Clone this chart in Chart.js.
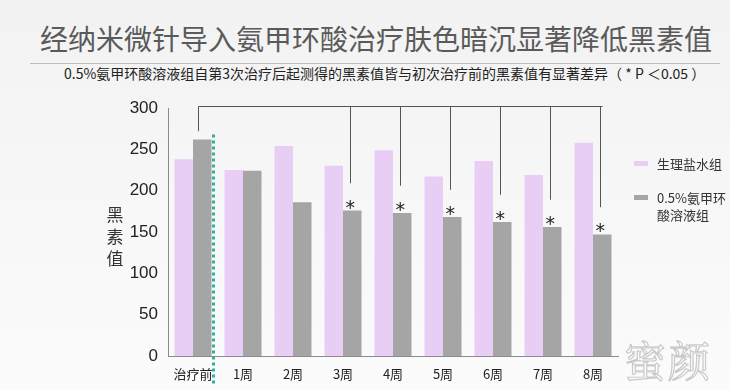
<!DOCTYPE html>
<html>
<head>
<meta charset="utf-8">
<script src="https://cdn.jsdelivr.net/npm/chart.js@4/dist/chart.umd.min.js"></script>
<style>
  html, body { margin: 0; padding: 0; }
  body {
    width: 730px; height: 390px; overflow: hidden; position: relative;
    background: linear-gradient(180deg, #f2f2f2 0%, #f7f7f7 50%, #fbfbfb 100%);
    font-family: "Noto Sans CJK SC", "Liberation Sans", sans-serif;
  }
  #title {
    position: absolute; left: 40px; top: 18px; width: 680px;
    font-size: 28px; line-height: 40px; color: #5a5a5a;
    white-space: nowrap;
  }
  #rule {
    position: absolute; left: 30px; top: 63px; width: 690px; height: 1px; background: #bdbdbd;
  }
  #subtitle {
    position: absolute; left: 64px; top: 64px;
    font-size: 14px; line-height: 19px; color: #222; white-space: nowrap;
  }
  #ylabel {
    position: absolute; left: 105px; top: 203px; width: 20px;
    font-size: 17px; line-height: 22px; color: #333; text-align: center;
  }
  .leg { position: absolute; left: 634px; font-size: 13px; line-height: 17px; color: #333; }
  .leg i { position: absolute; left: 0; top: 6px; width: 14px; height: 5px; }
  .leg span { display: block; padding-left: 23px; white-space: nowrap; }
  #mark {
    position: absolute; left: 624px; top: 334px; font-size: 42px; line-height: 50px;
    font-family: "Noto Serif CJK SC", "Noto Sans CJK SC", serif;
    color: #fdfdfd; -webkit-text-stroke: 1.2px #c9c9c9; letter-spacing: 2px;
  }
  #wrap { position: absolute; left: 0; top: 0; width: 730px; height: 390px; }
</style>
</head>
<body>
<div id="title">经纳米微针导入氨甲环酸治疗肤色暗沉显著降低黑素值</div>
<div id="rule"></div>
<div id="subtitle">0.5%氨甲环酸溶液组自第3次治疗后起测得的黑素值皆与初次治疗前的黑素值有显著差异（ * P ＜0.05 ）</div>
<div id="wrap"><canvas id="chart"></canvas></div>
<div id="ylabel">黑<br>素<br>值</div>
<div class="leg" style="top:155px"><i style="background:#e8cdf5"></i><span>生理盐水组</span></div>
<div class="leg" style="top:189px"><i style="background:#a5a5a5"></i><span>0.5%氨甲环<br>酸溶液组</span></div>
<div id="mark">蜜颜</div>

<script>
// data
const categories = ['治疗前', '1周', '2周', '3周', '4周', '5周', '6周', '7周', '8周'];
const salineValues = [238, 225, 254, 230, 249, 217, 236, 219, 258];
const tranexamicValues = [262, 224, 186, 176, 173, 168, 162, 156, 147];
// weeks whose 0.5% group differs significantly from baseline (* P < 0.05)
const significantIdx = [3, 4, 5, 6, 7, 8];
const yTicks = [0, 50, 100, 150, 200, 250, 300];

const PINK = '#e8cdf5';
const GRAY = '#a5a5a5';

// brackets, asterisks and the dotted divider after the baseline group
const annotations = {
  id: 'annotations',
  afterDatasetsDraw(chart) {
    const ctx = chart.ctx;
    const x = chart.scales.x;
    const y = chart.scales.y;
    const meta = chart.getDatasetMeta(1);

    // dotted teal divider
    const x0 = x.getPixelForValue(0), x1 = x.getPixelForValue(1);
    const dx = Math.round(x0 + (x1 - x0) * 0.4) + 0.5;
    ctx.save();
    ctx.strokeStyle = '#2bb39f';
    ctx.lineWidth = 3;
    ctx.setLineDash([3, 3]);
    ctx.beginPath();
    ctx.moveTo(dx, y.getPixelForValue(268));
    ctx.lineTo(dx, chart.height - 4);
    ctx.stroke();
    ctx.restore();

    // bracket from baseline gray bar to each significant week
    const topY = Math.round(y.getPixelForValue(303)) + 0.5;
    const baseX = Math.round(meta.data[0].x) - 3.5;
    ctx.save();
    ctx.strokeStyle = '#555';
    ctx.lineWidth = 1;
    ctx.beginPath();
    ctx.moveTo(baseX, y.getPixelForValue(tranexamicValues[0] + 10));
    ctx.lineTo(baseX, topY);
    const lastX = Math.round(meta.data[significantIdx[significantIdx.length - 1]].x) + 0.5;
    ctx.lineTo(lastX, topY);
    ctx.stroke();
    significantIdx.forEach(i => {
      const bx = Math.round(meta.data[i].x) - 1.5;
      ctx.beginPath();
      ctx.moveTo(bx, topY);
      ctx.lineTo(bx, y.getPixelForValue(tranexamicValues[i] + 33));
      ctx.stroke();
    });
    ctx.fillStyle = '#222';
    ctx.font = '19px "DejaVu Sans", sans-serif';
    ctx.textAlign = 'center';
    ctx.textBaseline = 'alphabetic';
    significantIdx.forEach(i => {
      ctx.fillText('*', meta.data[i].x - 2, y.getPixelForValue(tranexamicValues[i]) + 3);
    });
    ctx.restore();
  }
};

new Chart(document.getElementById('chart'), {
  type: 'bar',
  data: {
    labels: categories,
    datasets: [
      {
        label: '生理盐水组',
        data: salineValues,
        backgroundColor: PINK,
        borderWidth: 0,
        categoryPercentage: 0.74,
        barPercentage: 1.0
      },
      {
        label: '0.5%氨甲环酸溶液组',
        data: tranexamicValues,
        backgroundColor: GRAY,
        borderWidth: 0,
        categoryPercentage: 0.74,
        barPercentage: 1.0
      }
    ]
  },
  options: {
    responsive: true,
    maintainAspectRatio: false,
    animation: false,
    layout: { padding: { top: 108, right: 112, left: 0, bottom: 0 } },
    plugins: {
      legend: { display: false },
      tooltip: { enabled: false }
    },
    scales: {
      x: {
        grid: { display: false, drawTicks: false },
        border: { color: '#8a8a8a', width: 1 },
        afterFit: s => { s.height = 34; },
        ticks: {
          color: '#222',
          padding: 10,
          maxRotation: 0,
          font: { family: '"Noto Sans CJK SC", sans-serif', size: 13 }
        }
      },
      y: {
        min: 0,
        max: 300,
        grid: { display: false, drawTicks: false },
        border: { color: '#8a8a8a', width: 1 },
        afterFit: s => { s.width = 168; },
        afterBuildTicks: s => { s.ticks = yTicks.map(v => ({ value: v })); },
        ticks: {
          color: '#222',
          padding: 10,
          font: { family: '"Liberation Sans", Arial, sans-serif', size: 17 }
        }
      }
    }
  },
  plugins: [annotations]
});
</script>
</body>
</html>
